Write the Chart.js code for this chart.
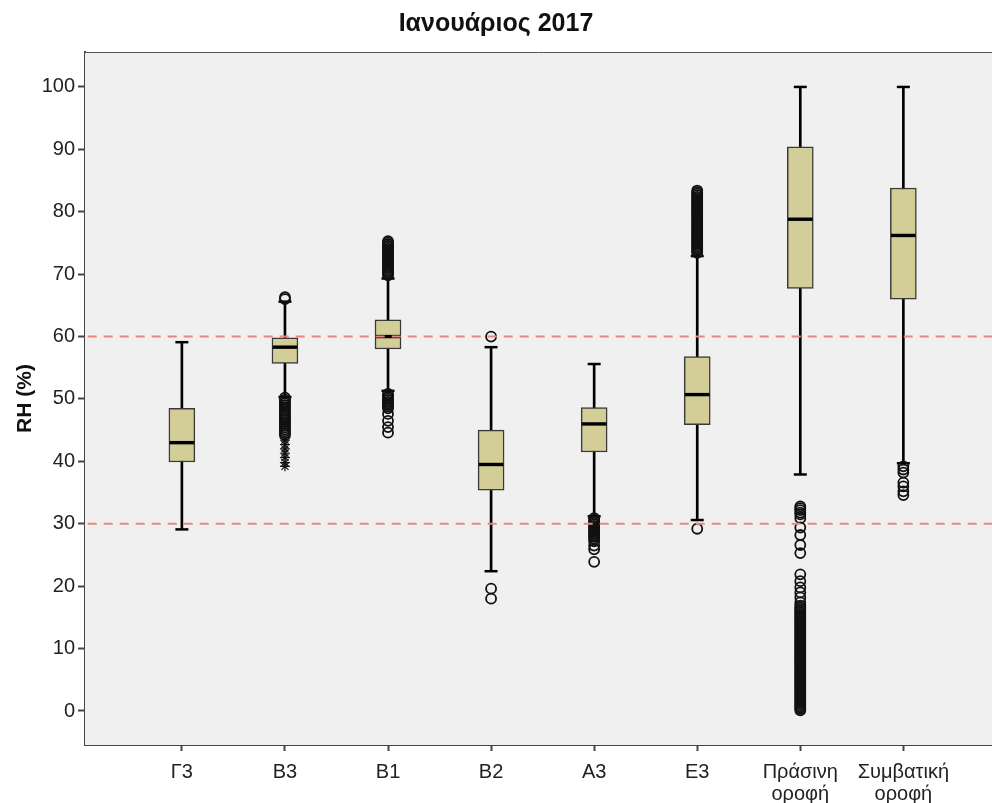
<!DOCTYPE html>
<html>
<head>
<meta charset="utf-8">
<script src="https://cdn.jsdelivr.net/npm/chart.js@4.4.1/dist/chart.umd.min.js"></script>
<style>
	body { margin: 0; background: #fff; }
	#wrap { width: 992px; height: 803px; position: relative; }
</style>
</head>
<body>
<div id="wrap"><canvas id="boxChart"></canvas></div>
<script>
// 카테고리 (x축)
const categories = [['Γ3'], ['B3'], ['B1'], ['B2'], ['A3'], ['E3'], ['Πράσινη', 'οροφή'], ['Συμβατική', 'οροφή']];

// 상자 수염 그림 값 (RH %)
const whiskerLow = [29.1, 50.3, 51.3, 22.4, 31.2, 30.6, 37.9, 39.7];
const q1 = [39.9, 55.7, 58.0, 35.4, 41.5, 45.9, 67.7, 66.0];
const medians = [43.0, 58.3, 60.0, 39.5, 46.0, 50.7, 78.8, 76.2];
const q3 = [48.5, 59.8, 62.7, 45.0, 48.6, 56.8, 90.4, 83.8];
const whiskerHigh = [59.1, 65.6, 69.3, 58.3, 55.6, 72.9, 100.0, 100.0];

// 이상치 (원)
const outliers = [
	[],
	[66.0, 66.3,
	 50.2, 49.9, 49.6, 49.3, 49.0, 48.7, 48.4, 48.1, 47.8, 47.5, 47.2, 46.9, 46.6, 46.3, 46.0, 45.7, 45.4, 45.1, 44.8, 44.5, 44.2],
	[69.8, 70.05, 70.3, 70.55, 70.8, 71.05, 71.3, 71.55, 71.8, 72.05, 72.3, 72.55, 72.8, 73.05, 73.3, 73.55, 73.8, 74.05, 74.3, 74.55, 74.8, 75.05, 75.3,
	 50.8, 50.55, 50.3, 50.05, 49.8, 49.55, 49.3, 49.05, 48.8, 48.5, 47.6, 46.5, 45.5, 44.6],
	[60.0, 19.6, 18.0],
	[30.9, 30.65, 30.4, 30.15, 29.9, 29.65, 29.4, 29.15, 28.9, 28.65, 28.4, 28.15, 27.9, 27.6, 27.2, 26.5, 25.9, 23.9],
	[73.4, 73.65, 73.9, 74.15, 74.4, 74.65, 74.9, 75.15, 75.4, 75.65, 75.9, 76.15, 76.4, 76.65, 76.9, 77.15, 77.4, 77.65, 77.9, 78.15, 78.4,
	 78.65, 78.9, 79.15, 79.4, 79.65, 79.9, 80.15, 80.4, 80.65, 80.9, 81.15, 81.4, 81.65, 81.9, 82.15, 82.4, 82.65, 82.9, 83.15, 83.4,
	 29.2],
	[32.8, 32.5, 32.2, 31.8, 31.5, 30.9, 29.4, 28.2, 26.6, 25.3, 21.9, 20.8, 19.8, 19.0, 18.2, 17.4, 16.9,
	 16.6, 16.35, 16.1, 15.85, 15.6, 15.35, 15.1, 14.85, 14.6, 14.35, 14.1, 13.85, 13.6, 13.35, 13.1, 12.85, 12.6, 12.35, 12.1, 11.85,
	 11.6, 11.35, 11.1, 10.85, 10.6, 10.35, 10.1, 9.85, 9.6, 9.35, 9.1, 8.85, 8.6, 8.35, 8.1, 7.85, 7.6, 7.35, 7.1, 6.85, 6.6, 6.35,
	 6.1, 5.85, 5.6, 5.35, 5.1, 4.85, 4.6, 4.35, 4.1, 3.85, 3.6, 3.35, 3.1, 2.85, 2.6, 2.35, 2.1, 1.85, 1.6, 1.35, 1.1, 0.85, 0.6,
	 0.35, 0.1],
	[39.2, 38.7, 38.2, 36.6, 36.0, 35.2, 34.6]
];

// 극단값 (별표)
const extremes = [
	[],
	[43.4, 42.7, 42.0, 41.3, 40.6, 39.8, 39.2],
	[], [], [], [], [], []
];

// 기준선 (빨간 점선)
const refLines = [30, 60];
const yTicks = [0, 10, 20, 30, 40, 50, 60, 70, 80, 90, 100];

document.addEventListener('DOMContentLoaded', function() {
	initBoxChart();
});

/**
 * 플롯 영역 배경 + 위쪽 테두리
 */
const plotBackground = {
	id: 'plotBackground',
	beforeDatasetsDraw(chart) {
		const a = chart.chartArea;
		const ctx = chart.ctx;
		ctx.save();
		ctx.fillStyle = '#f0f0f0';
		ctx.fillRect(a.left, a.top, a.right - a.left, a.bottom - a.top);
		ctx.strokeStyle = '#555';
		ctx.lineWidth = 1;
		ctx.beginPath();
		ctx.moveTo(a.left, a.top + 0.5);
		ctx.lineTo(a.right, a.top + 0.5);
		ctx.stroke();
		ctx.restore();
	}
};

function initBoxChart() {
	const ctx = document.getElementById('boxChart').getContext('2d');

	const whiskerData = categories.map((c, i) => ({ x: i, y: [whiskerLow[i], whiskerHigh[i]] }));
	const capData = [];
	categories.forEach((c, i) => {
		capData.push({ x: i, y: whiskerLow[i] });
		capData.push({ x: i, y: whiskerHigh[i] });
	});
	const boxData = categories.map((c, i) => ({ x: i, y: [q1[i], q3[i]] }));
	const medianData = categories.map((c, i) => ({ x: i, y: [medians[i] - 0.22, medians[i] + 0.22] }));
	const outlierData = [];
	outliers.forEach((list, i) => list.forEach(v => outlierData.push({ x: i, y: v })));
	const extremeData = [];
	extremes.forEach((list, i) => list.forEach(v => extremeData.push({ x: i, y: v })));

	const refSets = refLines.map(v => ({
		type: 'line',
		data: [{ x: -2, y: v }, { x: 10, y: v }],
		borderColor: '#f08282',
		borderWidth: 2,
		borderDash: [9, 7],
		pointRadius: 0,
		order: 0
	}));

	const font = 'Liberation Sans, Arial, sans-serif';

	new Chart(ctx, {
		type: 'bar',
		data: {
			datasets: [{
				type: 'bar',
				data: whiskerData,
				backgroundColor: '#000',
				barThickness: 2,
				grouped: false,
				order: 5
			}, {
				type: 'scatter',
				data: capData,
				pointStyle: 'line',
				pointRadius: 6.5,
				borderColor: '#000',
				borderWidth: 2.5,
				order: 4
			}, {
				type: 'bar',
				data: boxData,
				backgroundColor: '#d3ce97',
				borderColor: '#3a3a3a',
				borderWidth: 1.5,
				borderSkipped: false,
				barThickness: 26,
				grouped: false,
				order: 3
			}, {
				type: 'bar',
				data: medianData,
				backgroundColor: '#000',
				barThickness: 24,
				grouped: false,
				order: 2
			}, {
				type: 'scatter',
				data: outlierData,
				pointStyle: 'circle',
				pointRadius: 5,
				borderColor: '#111',
				backgroundColor: 'rgba(0,0,0,0)',
				borderWidth: 1.8,
				order: 1
			}, {
				type: 'scatter',
				data: extremeData,
				pointStyle: 'star',
				pointRadius: 5,
				borderColor: '#111',
				borderWidth: 1.2,
				order: 1
			}].concat(refSets)
		},
		options: {
			responsive: true,
			maintainAspectRatio: false,
			animation: false,
			layout: { autoPadding: false, padding: 0 },
			plugins: {
				legend: { display: false },
				tooltip: { enabled: false },
				title: {
					display: true,
					text: 'Ιανουάριος 2017',
					color: '#111',
					font: { family: font, size: 25, weight: 'bold' },
					padding: { top: 9, bottom: 13 }
				}
			},
			scales: {
				x: {
					type: 'linear',
					offset: false,
					min: -0.94,
					max: 7.86,
					afterBuildTicks: function(scale) {
						scale.ticks = categories.map((c, i) => ({ value: i }));
					},
					afterFit: function(scale) {
						scale.height = 58;
						scale.paddingLeft = 0;
						scale.paddingRight = 0;
					},
					ticks: {
						color: '#222',
						padding: 11,
						maxRotation: 0,
						font: { family: font, size: 20, lineHeight: 1.08 },
						callback: function(value, index) {
							return categories[index];
						}
					},
					grid: { offset: false, drawOnChartArea: false, tickLength: 6, tickWidth: 2, color: '#444' },
					border: { color: '#444', width: 2 }
				},
				y: {
					min: -5.45,
					max: 105.6,
					afterBuildTicks: function(scale) {
						scale.ticks = yTicks.map(v => ({ value: v }));
					},
					afterFit: function(scale) { scale.width = 85; },
					ticks: {
						color: '#222',
						padding: 3,
						font: { family: font, size: 20 }
					},
					grid: { drawOnChartArea: false, tickLength: 7, tickWidth: 2, color: '#444' },
					border: { color: '#444', width: 2 },
					title: {
						display: true,
						text: 'RH (%)',
						color: '#111',
						font: { family: font, size: 21, weight: 'bold' },
						padding: { top: 13, bottom: 0 }
					}
				}
			}
		},
		plugins: [plotBackground]
	});
}
</script>
</body>
</html>
